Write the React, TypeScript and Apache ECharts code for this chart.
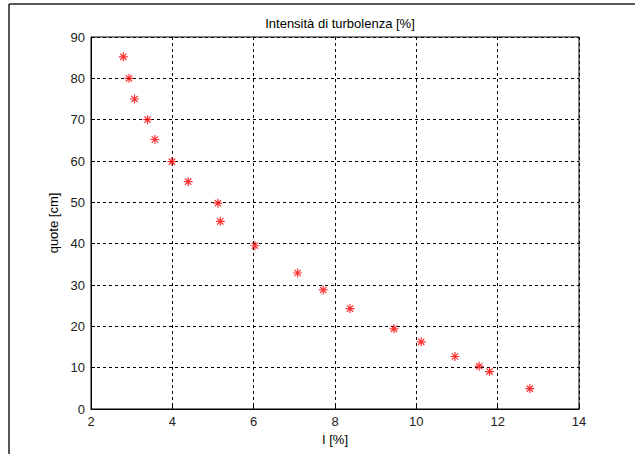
import React, { useEffect, useRef } from "react";
import * as echarts from "echarts";

const xValues = [2.795, 2.935, 3.07, 3.39, 3.57, 3.99, 4.39, 5.12, 5.18, 6.03, 7.08, 7.71, 8.37, 9.45, 10.12, 10.95, 11.545, 11.8, 12.79];
const yValues = [85.2, 80.0, 75.0, 70.0, 65.2, 59.85, 55.0, 49.8, 45.4, 39.5, 32.9, 28.8, 24.3, 19.4, 16.25, 12.7, 10.35, 9.05, 4.93];
const titleText = "Intensità di turbolenza [%]";
const xName = "I [%]";
const yName = "quote [cm]";

const asterisk = "path://M5,0L5,10M0,5L10,5M1.5,1.5L8.5,8.5M1.5,8.5L8.5,1.5";

export default function App() {
  const ref = useRef<HTMLDivElement>(null);
  useEffect(() => {
    if (!ref.current) return;
    const chart = echarts.init(ref.current, null, { renderer: "svg" });
    const font = "'Liberation Sans', Arial, sans-serif";
    chart.setOption({
      animation: false,
      backgroundColor: "#fff",
      title: {
        text: titleText,
        left: 335,
        top: 12,
        textAlign: "center",
        textStyle: { fontFamily: font, fontSize: 13, fontWeight: "normal", color: "#000" },
      },
      grid: { left: 91, right: 56, top: 37, bottom: 45, show: true, borderColor: "#000", borderWidth: 1, containLabel: false },
      xAxis: {
        type: "value",
        min: 2,
        max: 14,
        interval: 2,
        name: xName,
        nameLocation: "middle",
        nameGap: 22,
        nameTextStyle: { fontFamily: font, fontSize: 13, color: "#000" },
        axisLine: { lineStyle: { color: "#000" } },
        axisTick: { inside: true, length: 4, lineStyle: { color: "#000" } },
        axisLabel: { fontFamily: font, fontSize: 13, color: "#222", margin: 6 },
        splitLine: { show: true, lineStyle: { color: "#000", type: [3, 3], width: 1 } },
      },
      yAxis: {
        type: "value",
        min: 0,
        max: 90,
        interval: 10,
        name: yName,
        nameLocation: "middle",
        nameGap: 28,
        nameTextStyle: { fontFamily: font, fontSize: 13, color: "#000" },
        axisLine: { lineStyle: { color: "#000" } },
        axisTick: { inside: true, length: 4, lineStyle: { color: "#000" } },
        axisLabel: { fontFamily: font, fontSize: 13, color: "#222", margin: 6 },
        splitLine: { show: true, lineStyle: { color: "#000", type: [3, 3], width: 1 } },
      },
      graphic: [
        { type: "line", shape: { x1: 9, y1: 4, x2: 635, y2: 4 }, style: { stroke: "#222", lineWidth: 1.5 } },
        { type: "line", shape: { x1: 9, y1: 4, x2: 9, y2: 454 }, style: { stroke: "#222", lineWidth: 1.5 } },
      ],
      series: [
        {
          type: "scatter",
          data: xValues.map((x, i) => [x, yValues[i]]),
          symbol: asterisk,
          symbolSize: 9,
          itemStyle: { color: "rgba(0,0,0,0)", borderColor: "#ff0000", borderWidth: 1.2 },
          emphasis: { disabled: true },
        },
      ],
    });
    return () => chart.dispose();
  }, []);
  return <div ref={ref} style={{ position: "fixed", left: 0, top: 0, width: 635, height: 454 }} />;
}
